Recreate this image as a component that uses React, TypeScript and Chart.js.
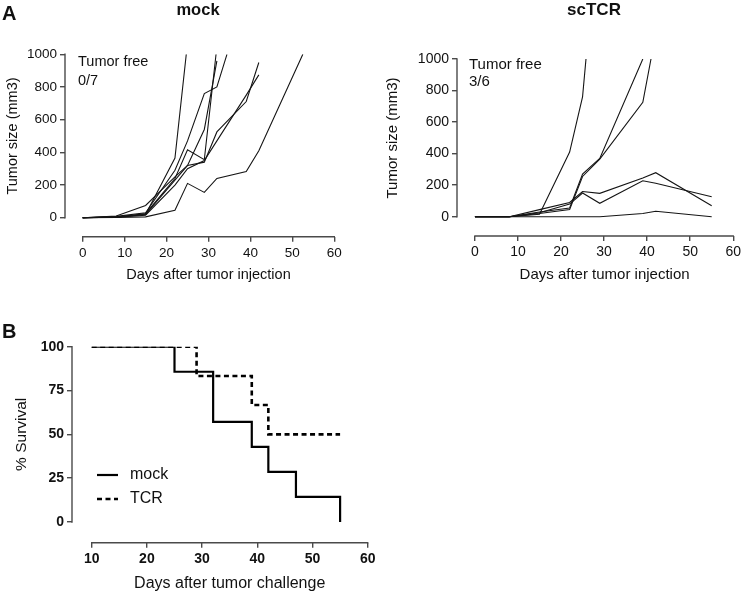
import React, { useEffect, useRef } from "react";
import { Chart, registerables } from "chart.js";

Chart.register(...registerables);

// ---------- Panel A: tumor growth, [day, tumor size (mm3)] ----------
const mockMouse1 = [[0, 0], [8, 5], [15, 20], [22, 365], [24.7, 1000]];
const mockMouse2 = [[0, 0], [8, 3], [15, 25], [22, 240], [25, 415], [29, 355], [31.8, 1000]];
const mockMouse3 = [[0, 0], [8, 8], [15, 30], [22, 290], [25, 470], [29, 760], [32, 800], [34.4, 1000]];
const mockMouse4 = [[0, 0], [8, 10], [15, 75], [22, 250], [25, 320], [29, 340], [32, 525], [39, 711], [42, 950]];
const mockMouse5 = [[0, 0], [8, 3], [15, 15], [22, 200], [25, 300], [29, 350], [32, 470], [39, 750], [42, 874]];
const mockMouse6 = [[0, 0], [8, 2], [15, 5], [22, 45], [25, 210], [29, 155], [32, 240], [39, 282], [42, 410], [52.5, 1000]];
const mockMouse7 = [[0, 0], [8, 4], [15, 20], [22, 230], [25, 320], [29, 540], [32, 960]];

const tcrMouse1 = [[0, 0], [8, 0], [15, 15], [22, 410], [25, 760], [25.8, 1000]];
const tcrMouse2 = [[0, 0], [8, 0], [15, 30], [22, 55], [25, 270], [29, 370], [39, 1000]];
const tcrMouse3 = [[0, 0], [8, 0], [15, 20], [22, 45], [25, 255], [29, 365], [39, 725], [40.9, 1000]];
const tcrMouse4 = [[0, 0], [8, 0], [15, 45], [22, 90], [25, 160], [29, 148], [39, 245], [42, 279], [55, 70]];
const tcrMouse5 = [[0, 0], [8, 0], [15, 25], [22, 80], [25, 150], [29, 85], [39, 228], [42, 212], [55, 127]];
const tcrMouse6 = [[0, 0], [29, 0], [39, 20], [42, 35], [55, 0]];

const tumorYTicks = [0, 200, 400, 600, 800, 1000];
const tumorXTicks = [0, 10, 20, 30, 40, 50, 60];

// ---------- Panel B: survival ----------
const mockSurvivalDays = [10, 25, 32, 39, 42, 47, 55];
const mockSurvival = [100, 85.7, 57.1, 42.9, 28.6, 14.3, 0];
const tcrSurvivalDays = [10, 29, 39, 42, 55];
const tcrSurvival = [100, 83.3, 66.7, 50, 50];
const survivalYTicks = [0, 25, 50, 75, 100];
const survivalXTicks = [10, 20, 30, 40, 50, 60];

const FONT = 'Arial, "Liberation Sans", Helvetica, sans-serif';
const AXIS = "#4a4a4a";
const INK = "#111111";

type TextItem = {
  text: string;
  x: number;
  y: number;
  size: number;
  bold?: boolean;
  align?: CanvasTextAlign;
  baseline?: CanvasTextBaseline;
  rotate?: boolean;
};

type PanelSpec = {
  w: number;
  h: number;
  area: { left: number; top: number; right: number; bottom: number };
  zeroPx: number;
  x0Px: number;
  xTicks: number[];
  yTicks: number[];
  tickSize: number;
  tickBold?: boolean;
  texts: TextItem[];
  legend?: { x1: number; x2: number; tx: number; ys: number[]; size: number };
  datasets: any[];
};

function prismPlugin(p: PanelSpec) {
  return {
    id: "prismAxes",
    afterDraw(chart: any) {
      const ctx: CanvasRenderingContext2D = chart.ctx;
      const { left, bottom } = chart.chartArea;
      const xs = chart.scales.x;
      const ys = chart.scales.y;
      ctx.save();
      ctx.strokeStyle = AXIS;
      ctx.lineWidth = 1.4;
      ctx.beginPath();
      ctx.moveTo(left, ys.getPixelForValue(p.yTicks[0]) + 0.7);
      ctx.lineTo(left, ys.getPixelForValue(p.yTicks[p.yTicks.length - 1]) - 0.7);
      ctx.moveTo(xs.getPixelForValue(p.xTicks[0]) - 0.7, bottom);
      ctx.lineTo(xs.getPixelForValue(p.xTicks[p.xTicks.length - 1]) + 0.7, bottom);
      ctx.stroke();

      ctx.fillStyle = INK;
      for (const t of p.texts) {
        ctx.save();
        ctx.font = `${t.bold ? "bold " : ""}${t.size}px ${FONT}`;
        ctx.textAlign = t.align || "center";
        ctx.textBaseline = t.baseline || "middle";
        ctx.translate(t.x, t.y);
        if (t.rotate) ctx.rotate(-Math.PI / 2);
        ctx.fillText(t.text, 0, 0);
        ctx.restore();
      }

      if (p.legend) {
        const lg = p.legend;
        chart.data.datasets.forEach((ds: any, i: number) => {
          const y = lg.ys[i];
          ctx.save();
          ctx.strokeStyle = ds.borderColor;
          ctx.lineWidth = ds.borderWidth;
          ctx.setLineDash(ds.borderDash || []);
          ctx.beginPath();
          ctx.moveTo(lg.x1, y);
          ctx.lineTo(lg.x2, y);
          ctx.stroke();
          ctx.restore();
          ctx.font = `${lg.size}px ${FONT}`;
          ctx.textAlign = "left";
          ctx.textBaseline = "middle";
          ctx.fillText(ds.label, lg.tx, y);
        });
      }
      ctx.restore();
    },
  };
}

function makeConfig(p: PanelSpec): any {
  const yMax = p.yTicks[p.yTicks.length - 1];
  const pxPerY = (p.zeroPx - p.area.top) / (yMax - p.yTicks[0]);
  const yMin = p.yTicks[0] - (p.area.bottom - p.zeroPx) / pxPerY;
  const xStart = p.xTicks[0];
  const xMax = p.xTicks[p.xTicks.length - 1];
  const pxPerX = (p.area.right - p.x0Px) / (xMax - xStart);
  const xMin = xStart - (p.x0Px - p.area.left) / pxPerX;

  const tickFont = { family: FONT, size: p.tickSize, weight: p.tickBold ? "bold" : "normal" };
  const grid = {
    drawOnChartArea: false,
    drawTicks: true,
    tickLength: 5,
    color: AXIS,
    lineWidth: 1.4,
  };
  return {
    type: "line",
    data: { datasets: p.datasets },
    options: {
      animation: false,
      responsive: false,
      maintainAspectRatio: false,
      layout: { padding: { left: 0, top: p.area.top, right: p.w - p.area.right, bottom: 0 } },
      plugins: { legend: { display: false }, tooltip: { enabled: false }, title: { display: false } },
      elements: { point: { radius: 0 }, line: { tension: 0 } },
      scales: {
        x: {
          type: "linear",
          min: xMin,
          max: xMax,
          bounds: "data",
          afterBuildTicks: (s: any) => {
            s.ticks = p.xTicks.map((v) => ({ value: v }));
          },
          afterFit: (s: any) => {
            s.height = p.h - p.area.bottom;
          },
          grid,
          border: { display: false },
          ticks: {
            autoSkip: false,
            maxRotation: 0,
            padding: 3,
            color: INK,
            font: tickFont,
            callback: (v: any) => String(v),
          },
        },
        y: {
          type: "linear",
          min: yMin,
          max: yMax,
          bounds: "data",
          afterBuildTicks: (s: any) => {
            s.ticks = p.yTicks.map((v) => ({ value: v }));
          },
          afterFit: (s: any) => {
            s.width = p.area.left;
          },
          grid,
          border: { display: false },
          ticks: {
            autoSkip: false,
            padding: 3,
            color: INK,
            font: tickFont,
            callback: (v: any) => String(v),
          },
        },
      },
    },
    plugins: [prismPlugin(p)],
  };
}

const tumorLine = (pts: number[][]) => ({
  data: pts.map(([x, y]) => ({ x, y })),
  borderColor: "#151515",
  borderWidth: 1.1,
  pointRadius: 0,
  fill: false,
});

const mockSpec: PanelSpec = {
  w: 372,
  h: 300,
  area: { left: 65, top: 54.3, right: 334.3, bottom: 236.7 },
  zeroPx: 217.7,
  x0Px: 82.7,
  xTicks: tumorXTicks,
  yTicks: tumorYTicks,
  tickSize: 13.5,
  texts: [
    { text: "A", x: 2, y: 20, size: 20, bold: true, align: "left", baseline: "alphabetic" },
    { text: "mock", x: 198, y: 15, size: 16.5, bold: true, baseline: "alphabetic" },
    { text: "Tumor free", x: 78, y: 62, size: 14.5, align: "left" },
    { text: "0/7", x: 78, y: 81, size: 14.5, align: "left" },
    { text: "Tumor size (mm3)", x: 13, y: 136, size: 14.5, rotate: true },
    { text: "Days after tumor injection", x: 208.5, y: 275, size: 14.5 },
  ],
  datasets: [mockMouse1, mockMouse2, mockMouse3, mockMouse4, mockMouse5, mockMouse6, mockMouse7].map(tumorLine),
};

const tcrSpec: PanelSpec = {
  w: 372,
  h: 300,
  area: { left: 85, top: 59, right: 362.3, bottom: 236 },
  zeroPx: 216.7,
  x0Px: 103,
  xTicks: tumorXTicks,
  yTicks: tumorYTicks,
  tickSize: 14,
  texts: [
    { text: "scTCR", x: 222, y: 15, size: 17, bold: true, baseline: "alphabetic" },
    { text: "Tumor free", x: 97, y: 65, size: 15, align: "left" },
    { text: "3/6", x: 97, y: 82, size: 15, align: "left" },
    { text: "Tumor size (mm3)", x: 21, y: 138, size: 15, rotate: true },
    { text: "Days after tumor injection", x: 232.6, y: 275, size: 15 },
  ],
  datasets: [tcrMouse1, tcrMouse2, tcrMouse3, tcrMouse4, tcrMouse5, tcrMouse6].map(tumorLine),
};

const survivalSpec: PanelSpec = {
  w: 400,
  h: 293,
  area: { left: 72, top: 46.7, right: 367.7, bottom: 242.7 },
  zeroPx: 222,
  x0Px: 91.7,
  xTicks: survivalXTicks,
  yTicks: survivalYTicks,
  tickSize: 14,
  tickBold: true,
  texts: [
    { text: "B", x: 2, y: 38, size: 20, bold: true, align: "left", baseline: "alphabetic" },
    { text: "% Survival", x: 21.7, y: 134.3, size: 15.5, rotate: true },
    { text: "Days after tumor challenge", x: 229.7, y: 283.3, size: 16 },
  ],
  legend: { x1: 97, x2: 118, tx: 130, ys: [175, 199], size: 16 },
  datasets: [
    {
      label: "mock",
      data: mockSurvivalDays.map((x, i) => ({ x, y: mockSurvival[i] })),
      borderColor: "#000000",
      borderWidth: 2.2,
      borderDash: [],
      stepped: "before",
      pointRadius: 0,
      fill: false,
    },
    {
      label: "TCR",
      data: tcrSurvivalDays.map((x, i) => ({ x, y: tcrSurvival[i] })),
      borderColor: "#000000",
      borderWidth: 2.6,
      borderDash: [5, 3.5],
      stepped: "before",
      pointRadius: 0,
      fill: false,
    },
  ],
};

function Panel({ spec, left, top }: { spec: PanelSpec; left: number; top: number }) {
  const ref = useRef<HTMLCanvasElement | null>(null);
  useEffect(() => {
    if (!ref.current) return;
    const chart = new Chart(ref.current, makeConfig(spec));
    return () => chart.destroy();
  }, [spec]);
  return (
    <canvas
      ref={ref}
      width={spec.w}
      height={spec.h}
      style={{ position: "absolute", left, top, width: spec.w, height: spec.h }}
    />
  );
}

export default function App() {
  return (
    <div style={{ position: "absolute", left: 0, top: 0, width: 744, height: 593, background: "#ffffff" }}>
      <Panel spec={mockSpec} left={0} top={0} />
      <Panel spec={tcrSpec} left={372} top={0} />
      <Panel spec={survivalSpec} left={0} top={300} />
    </div>
  );
}
